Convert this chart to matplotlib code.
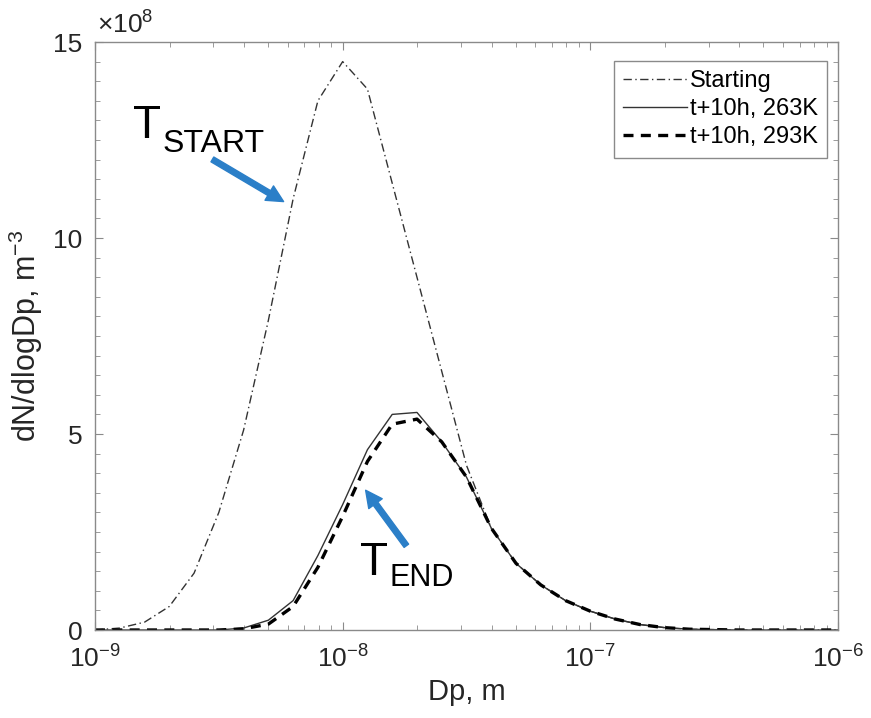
import numpy as np
import matplotlib
matplotlib.use("Agg")
import matplotlib.pyplot as plt
from matplotlib.ticker import FuncFormatter, NullFormatter

plt.rcParams['font.family'] = ['Liberation Sans', 'DejaVu Sans']
plt.rcParams['mathtext.fontset'] = 'custom'
plt.rcParams['mathtext.rm'] = 'Liberation Sans'
plt.rcParams['mathtext.it'] = 'Liberation Sans:italic'

# log10 of particle diameter (m), one point per 0.1 decade
log_dp = [-9.0, -8.9, -8.8, -8.7, -8.6, -8.5, -8.4, -8.3, -8.2, -8.1,
          -8.0, -7.9, -7.8, -7.7, -7.6, -7.5, -7.4, -7.3, -7.2, -7.1,
          -7.0, -6.9, -6.8, -6.7, -6.6, -6.5, -6.4, -6.3, -6.2, -6.1, -6.0]

# dN/dlogDp in units of 1e8 m^-3
starting = [0.0, 0.05, 0.2, 0.6, 1.45, 3.0, 5.1, 7.9, 11.0, 13.5,
            14.5, 13.8, 11.4, 9.0, 6.6, 4.2, 2.6, 1.7, 1.15, 0.75,
            0.48, 0.28, 0.14, 0.06, 0.02, 0.01, 0.0, 0.0, 0.0, 0.0, 0.0]
t10_263 = [0.0, 0.0, 0.0, 0.0, 0.0, 0.0, 0.05, 0.25, 0.75, 1.9,
           3.2, 4.6, 5.5, 5.55, 4.8, 3.9, 2.6, 1.7, 1.15, 0.75,
           0.48, 0.28, 0.14, 0.06, 0.02, 0.01, 0.0, 0.0, 0.0, 0.0, 0.0]
t10_293 = [0.0, 0.0, 0.0, 0.0, 0.0, 0.0, 0.03, 0.15, 0.6, 1.6,
           2.9, 4.3, 5.25, 5.38, 4.8, 3.9, 2.6, 1.7, 1.15, 0.75,
           0.48, 0.28, 0.14, 0.06, 0.02, 0.01, 0.0, 0.0, 0.0, 0.0, 0.0]

dp = 10.0 ** np.array(log_dp)
scale = 1e8

fig = plt.figure(figsize=(8.71, 7.18), dpi=100)
ax = fig.add_axes([95 / 871, 1 - 630 / 718, (838 - 95) / 871, (630 - 42) / 718])

ax.plot(dp, np.array(starting) * scale, color='#333333', lw=1.0,
        dashes=(6, 2.5, 1, 2.5), label='Starting')
ax.plot(dp, np.array(t10_263) * scale, color='#333333', lw=1.0,
        label='t+10h, 263K')
ax.plot(dp, np.array(t10_293) * scale, color='black', lw=2.4,
        dashes=(3, 2.2), label='t+10h, 293K')

ax.set_xscale('log')
ax.set_xlim(1e-9, 1e-6)
ax.xaxis.set_minor_formatter(NullFormatter())
ax.set_ylim(0, 15e8)
ax.set_yticks([0, 5e8, 10e8, 15e8])
ax.set_yticks(np.arange(0, 15.01e8, 0.5e8), minor=True)
ax.yaxis.set_major_formatter(FuncFormatter(lambda v, p: '%g' % (v / scale)))

for sp in ax.spines.values():
    sp.set_color('#8a8a8a')
    sp.set_linewidth(1.0)
ax.tick_params(which='both', direction='in', top=True, right=True,
               colors='#8a8a8a', labelcolor='#262626', labelsize=19)
ax.tick_params(which='major', length=6)
ax.tick_params(which='minor', length=3.5)
ax.tick_params(axis='y', pad=9)
ax.tick_params(axis='x', pad=11)

fig.text(97 / 871, 1 - 34 / 718, r'$\times10^{8}$', fontsize=19, color='#262626')

ax.set_xlabel('Dp, m', fontsize=21, color='#262626', labelpad=4)
ax.set_ylabel('dN/dlogDp, m$^{-3}$', fontsize=22, color='#262626', labelpad=6)

leg = ax.legend(loc='upper right', bbox_to_anchor=(827 / 871, 1 - 61 / 718),
                bbox_transform=fig.transFigure, borderaxespad=0,
                fontsize=17, fancybox=False, framealpha=1, edgecolor='#8a8a8a',
                handlelength=2.7, handletextpad=0.1, labelspacing=0.25,
                borderpad=0.4)
leg.get_frame().set_linewidth(1.0)

# annotations
fig.text(133 / 871, 1 - 138 / 718, 'T', fontsize=33, color='black')
fig.text(163 / 871, 1 - 152 / 718, 'START', fontsize=23, color='black')
fig.text(360 / 871, 1 - 575 / 718, 'T', fontsize=33, color='black')
fig.text(389 / 871, 1 - 586 / 718, 'END', fontsize=22, color='black')

blue = '#2b7fc8'
fig.patches.append(matplotlib.patches.FancyArrowPatch(
    (210 / 871, 1 - 158 / 718), (286 / 871, 1 - 203 / 718),
    transform=fig.transFigure, arrowstyle='simple,head_length=12,head_width=12,tail_width=4',
    color=blue, mutation_scale=1))
fig.patches.append(matplotlib.patches.FancyArrowPatch(
    (408 / 871, 1 - 548 / 718), (364 / 871, 1 - 488 / 718),
    transform=fig.transFigure, arrowstyle='simple,head_length=12,head_width=12,tail_width=4',
    color=blue, mutation_scale=1))

fig.savefig('out.png', dpi=100)
